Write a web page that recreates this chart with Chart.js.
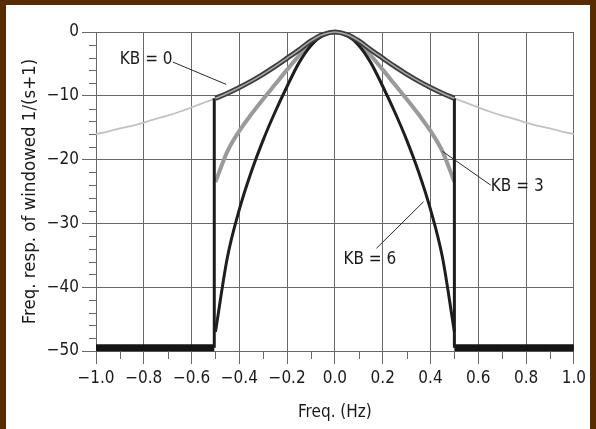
<!DOCTYPE html>
<html>
<head>
<meta charset="utf-8">
<script src="https://cdn.jsdelivr.net/npm/chart.js@4.4.1/dist/chart.umd.min.js"></script>
<style>
  html, body { margin: 0; padding: 0; background: #fff; }
  #frame { position: absolute; left: 0; top: 0; width: 596px; height: 429px; overflow: hidden; }
  #bt { position: absolute; left: 0; top: 0; width: 596px; height: 5px; background: #582c00; }
  #bl { position: absolute; left: 0; top: 0; width: 6px; height: 429px; background: #582c00; }
  #br { position: absolute; left: 590px; top: 0; width: 6px; height: 429px; background: #582c00; }
  #c { position: absolute; left: 6px; top: 5px; }
</style>
</head>
<body>
<div id="frame">
  <canvas id="c" width="584" height="424"></canvas>
  <div id="bt"></div><div id="bl"></div><div id="br"></div>
</div>
<script>
// ---- data ----
const freqFull = [-1.0,-0.95,-0.9,-0.85,-0.8,-0.75,-0.7,-0.65,-0.6,-0.55,-0.5,-0.45,-0.4,-0.35,-0.3,-0.25,-0.2,-0.15,-0.1,-0.05,0,0.05,0.1,0.15,0.2,0.25,0.3,0.35,0.4,0.45,0.5,0.55,0.6,0.65,0.7,0.75,0.8,0.85,0.9,0.95,1.0];
const analogDb = [-16.0,-15.6,-15.1,-14.7,-14.2,-13.6,-13.1,-12.5,-11.8,-11.1,-10.4,-9.6,-8.7,-7.7,-6.6,-5.4,-4.1,-2.8,-1.4,-0.4,0,-0.4,-1.4,-2.8,-4.1,-5.4,-6.6,-7.7,-8.7,-9.6,-10.4,-11.1,-11.8,-12.5,-13.1,-13.6,-14.2,-14.7,-15.1,-15.6,-16.0];

const freqPass = [-0.5,-0.45,-0.4,-0.35,-0.3,-0.25,-0.2,-0.15,-0.1,-0.05,0,0.05,0.1,0.15,0.2,0.25,0.3,0.35,0.4,0.45,0.5];
const kb0Db = [-10.4,-9.6,-8.7,-7.7,-6.6,-5.4,-4.1,-2.8,-1.4,-0.4,0,-0.4,-1.4,-2.8,-4.1,-5.4,-6.6,-7.7,-8.7,-9.6,-10.4];
const kb3Db = [-23.5,-18.7,-15.5,-12.9,-10.5,-8.2,-5.9,-3.7,-1.8,-0.5,0,-0.5,-1.8,-3.7,-5.9,-8.2,-10.5,-12.9,-15.5,-18.7,-23.5];
const kb6Db = [-47.0,-35.3,-27.8,-21.9,-16.9,-12.5,-8.5,-4.8,-2.1,-0.5,0,-0.5,-2.1,-4.8,-8.5,-12.5,-16.9,-21.9,-27.8,-35.3,-47.0];

const edgeFreqs = [-0.505, 0.5];
const edgeTopDb = -10.4;
const floorDb = -49.5;
const floorLeft = [-1.0, -0.505];
const floorRight = [0.5, 1.0];

const labelTexts = ['KB = 0', 'KB = 3', 'KB = 6'];
const labelX = [-0.79, 0.763, 0.146];
const labelY = [-4.4, -24.3, -35.6];
const leaderFrom = [[-0.679, -4.7], [0.652, -24.0], [0.174, -33.9]];
const leaderTo = [[-0.456, -8.2], [0.450, -18.7], [0.371, -26.6]];

const xTickLabels = ['−1.0','−0.8','−0.6','−0.4','−0.2','0.0','0.2','0.4','0.6','0.8','1.0'];
const yTickLabels = ['−50','−40','−30','−20','−10','0'];
const xTitle = 'Freq. (Hz)';
const yTitle = 'Freq. resp. of windowed 1/(s+1)';

// ---- build ----
const FONT = '"Liberation Sans Narrow", "Arial Narrow", "DejaVu Sans Condensed", "Roboto Condensed", "Liberation Sans", sans-serif';
const pts = (xs, ys) => xs.map((x, i) => ({x, y: ys[i]}));
const line = (data, color, width, order, extra) => Object.assign({
  data, borderColor: color, borderWidth: width, pointRadius: 0, showLine: true,
  fill: false, order, clip: 8
}, extra || {});

const datasets = [
  line(pts(freqPass, kb0Db), '#a8a8a8', 1.6, 0, {cubicInterpolationMode: 'monotone'}),
  line(pts(freqPass, kb0Db), '#3c3c3c', 5, 1, {cubicInterpolationMode: 'monotone'}),
  line([{x: edgeFreqs[0], y: edgeTopDb}, {x: edgeFreqs[0], y: floorDb}], '#1c1c1c', 3, 2),
  line([{x: edgeFreqs[1], y: edgeTopDb}, {x: edgeFreqs[1], y: floorDb}], '#1c1c1c', 3, 2),
  line(pts(freqPass, kb6Db), '#1e1e1e', 3, 3, {cubicInterpolationMode: 'monotone'}),
  line(pts(freqPass, kb3Db), '#9a9a9a', 4, 4, {cubicInterpolationMode: 'monotone'}),
  line(floorLeft.map(x => ({x, y: floorDb})), '#151515', 7, 5),
  line(floorRight.map(x => ({x, y: floorDb})), '#151515', 7, 5),
  line(pts(freqFull, analogDb), '#c2c2c2', 1.8, 6, {cubicInterpolationMode: 'monotone'}),
];
leaderFrom.forEach((p, i) => {
  datasets.push(line([{x: p[0], y: p[1]}, {x: leaderTo[i][0], y: leaderTo[i][1]}], '#2a2a2a', 1, 0));
});

const isMajorX = v => Math.round(v * 10) % 2 === 0;
const isMajorY = v => Math.round(v) % 10 === 0;
const GRID = '#686868';

const overlay = {
  id: 'overlay',
  afterDraw(chart) {
    const ctx = chart.ctx, xs = chart.scales.x, ys = chart.scales.y;
    ctx.save();
    ctx.strokeStyle = GRID; ctx.lineWidth = 1;
    xs.ticks.forEach(t => {
      if (!isMajorX(t.value)) {
        const px = Math.round(xs.getPixelForValue(t.value)) + 0.5;
        ctx.beginPath(); ctx.moveTo(px, ys.bottom); ctx.lineTo(px, ys.bottom + 8); ctx.stroke();
      }
    });
    ys.ticks.forEach(t => {
      if (!isMajorY(t.value)) {
        const py = Math.round(ys.getPixelForValue(t.value)) + 0.5;
        ctx.beginPath(); ctx.moveTo(xs.left - 7, py); ctx.lineTo(xs.left, py); ctx.stroke();
      }
    });
    ctx.fillStyle = '#1a1a1a';
    ctx.font = '17px ' + FONT;
    ctx.textAlign = 'center'; ctx.textBaseline = 'middle';
    labelTexts.forEach((s, i) => {
      ctx.fillText(s, xs.getPixelForValue(labelX[i]), ys.getPixelForValue(labelY[i]));
    });
    ctx.restore();
  }
};

new Chart(document.getElementById('c'), {
  type: 'scatter',
  data: { datasets },
  options: {
    responsive: false,
    animation: false,
    events: [],
    layout: { padding: { top: 27, right: 14, left: 0, bottom: 0 } },
    plugins: { legend: { display: false }, title: { display: false }, tooltip: { enabled: false } },
    scales: {
      x: {
        type: 'linear', min: -1, max: 1,
        afterFit: s => { s.height = 78; },
        ticks: {
          stepSize: 0.1, autoSkip: false, maxRotation: 0, padding: 4,
          color: '#1a1a1a', font: { family: FONT, size: 17 },
          callback: v => isMajorX(v) ? xTickLabels[Math.round((v + 1) * 5)] : ''
        },
        grid: {
          color: c => (c.tick && isMajorX(c.tick.value)) ? GRID : 'rgba(0,0,0,0)',
          tickColor: c => (c.tick && isMajorX(c.tick.value)) ? GRID : 'rgba(0,0,0,0)',
          tickLength: 13, lineWidth: 1
        },
        border: { display: true, color: GRID },
        title: { display: true, text: xTitle, color: '#1a1a1a', font: { family: FONT, size: 17 }, padding: { top: 0, bottom: 6 } }
      },
      y: {
        type: 'linear', min: -50, max: 0,
        afterFit: s => { s.width = 90; },
        ticks: {
          stepSize: 2, autoSkip: false, padding: 3,
          color: '#1a1a1a', font: { family: FONT, size: 17 },
          callback: v => isMajorY(v) ? yTickLabels[Math.round((v + 50) / 10)] : ''
        },
        grid: {
          color: c => (c.tick && isMajorY(c.tick.value)) ? GRID : 'rgba(0,0,0,0)',
          tickColor: c => (c.tick && isMajorY(c.tick.value)) ? GRID : 'rgba(0,0,0,0)',
          tickLength: 14, lineWidth: 1
        },
        border: { display: true, color: GRID },
        title: { display: true, text: yTitle, color: '#1a1a1a', font: { family: FONT, size: 18.5 }, padding: { top: 13, bottom: 0 } }
      }
    }
  },
  plugins: [overlay]
});
</script>
</body>
</html>
